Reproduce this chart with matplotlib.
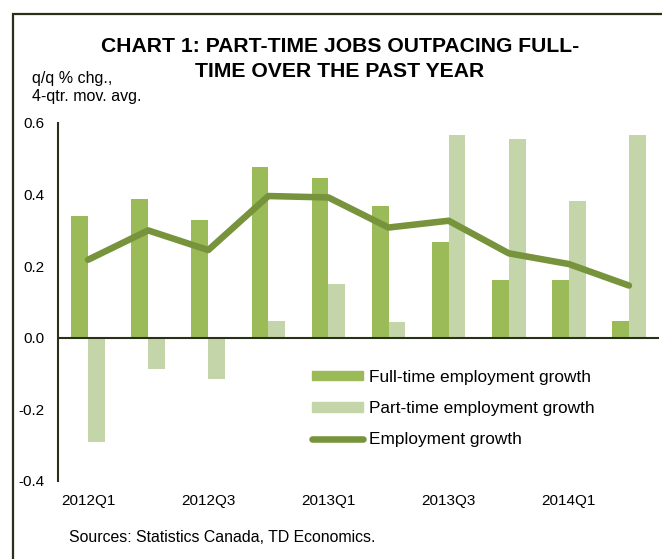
import numpy as np
import matplotlib
matplotlib.use("Agg")
import matplotlib.pyplot as plt
from matplotlib.patches import Rectangle, Patch
from matplotlib.lines import Line2D

plt.rcParams['font.family'] = ['Liberation Sans', 'DejaVu Sans']

# quarterly data, 2012Q1 .. 2014Q2
quarters = ['2012Q1', '2012Q2', '2012Q3', '2012Q4', '2013Q1',
            '2013Q2', '2013Q3', '2013Q4', '2014Q1', '2014Q2']
full_time = [0.34, 0.389, 0.33, 0.477, 0.447, 0.367, 0.268, 0.161, 0.161, 0.047]
part_time = [-0.29, -0.088, -0.114, 0.047, 0.15, 0.045, 0.567, 0.554, 0.383, 0.567]
employment = [0.218, 0.30, 0.245, 0.396, 0.392, 0.308, 0.327, 0.236, 0.206, 0.146]
tick_labels = ['2012Q1', '2012Q3', '2013Q1', '2013Q3', '2014Q1']

ft_color = '#9BBB59'
pt_color = '#C4D6A9'
emp_color = '#77933C'
dark = '#283018'

W, H = 662, 559
fig = plt.figure(figsize=(W / 100, H / 100), dpi=100)

# outer frame (cut off on right and bottom like the source)
fig.patches.append(Rectangle((13 / W, -0.1), 1.2, 1.1 - 14 / H, transform=fig.transFigure,
                             fill=False, edgecolor=dark, linewidth=1.6, clip_on=False))

ax = fig.add_axes([58 / W, 1 - 481 / H, (659 - 58) / W, (481 - 123) / H])

x = np.arange(len(quarters))
bw = 0.28
ax.bar(x - bw / 2, full_time, width=bw, color=ft_color, zorder=2)
ax.bar(x + bw / 2, part_time, width=bw, color=pt_color, zorder=2)
ax.plot(x, employment, color=emp_color, linewidth=4.7, solid_capstyle='round', zorder=3)
ax.axhline(0, color=dark, linewidth=1.5, zorder=4)

ax.set_xlim(-0.5, len(quarters) - 0.5)
ax.set_ylim(-0.4, 0.6)
ax.set_yticks(np.arange(-0.4, 0.61, 0.2))
ax.set_yticklabels(['%.1f' % v for v in np.arange(-0.4, 0.61, 0.2)])
ax.set_xticks([quarters.index(q) for q in tick_labels])
ax.set_xticklabels(tick_labels)
ax.tick_params(axis='y', length=0, pad=10, labelsize=11)
ax.tick_params(axis='x', length=0, pad=9, labelsize=11)
for s in ['top', 'right', 'bottom']:
    ax.spines[s].set_visible(False)
ax.spines['left'].set_color(dark)
ax.spines['left'].set_linewidth(1.5)

handles = [Patch(color=ft_color), Patch(color=pt_color),
           Line2D([0], [0], color=emp_color, linewidth=4.7, solid_capstyle='round')]
labels = ['Full-time employment growth', 'Part-time employment growth', 'Employment growth']
fig.legend(handles, labels, loc='upper left', bbox_to_anchor=(312 / W, 1 - 370 / H),
           frameon=False, fontsize=12.4, borderpad=0, borderaxespad=0,
           handlelength=2.95, handleheight=0.45, handletextpad=0.35, labelspacing=0.93)

fig.text(340 / W, 1 - 46 / H, 'CHART 1: PART-TIME JOBS OUTPACING FULL-',
         ha='center', va='center', fontsize=15.2, fontweight='bold')
fig.text(340 / W, 1 - 71 / H, 'TIME OVER THE PAST YEAR',
         ha='center', va='center', fontsize=15.2, fontweight='bold')
fig.text(32 / W, 1 - 78 / H, 'q/q % chg.,', ha='left', va='center', fontsize=11.5)
fig.text(32 / W, 1 - 97 / H, '4-qtr. mov. avg.', ha='left', va='center', fontsize=11.5)
fig.text(69 / W, 1 - 538 / H, 'Sources: Statistics Canada, TD Economics.',
         ha='left', va='center', fontsize=11.4)

fig.savefig('out.png', dpi=100)
